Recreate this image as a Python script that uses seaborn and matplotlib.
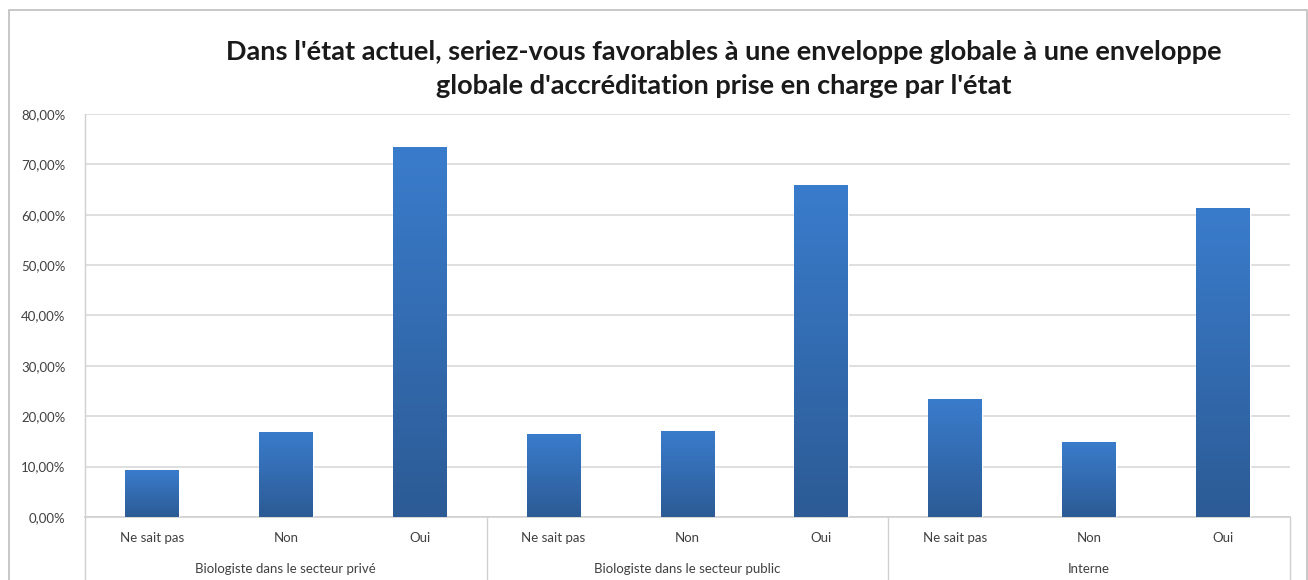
import numpy as np
import pandas as pd
import matplotlib
matplotlib.use("Agg")
import matplotlib.pyplot as plt
import seaborn as sns
from matplotlib.colors import LinearSegmentedColormap
from matplotlib.patches import Rectangle
from matplotlib.ticker import FuncFormatter

# Data
groups = ["Biologiste dans le secteur privé", "Biologiste dans le secteur public", "Interne"]
responses = ["Ne sait pas", "Non", "Oui"]
prive = [9.3, 16.9, 73.4]
public = [16.5, 17.1, 65.9]
interne = [23.4, 14.9, 61.3]

title = ("Dans l'état actuel, seriez-vous favorables à une enveloppe globale à une enveloppe\n"
         "globale d'accréditation prise en charge par l'état")

rows = []
for g, vals in zip(groups, [prive, public, interne]):
    for r, v in zip(responses, vals):
        rows.append({"key": g + "|" + r, "groupe": g, "reponse": r, "valeur": v})
df = pd.DataFrame(rows)

sns.set_theme(style="white")
plt.rcParams["font.family"] = ["Lato", "DejaVu Sans"]

fig = plt.figure(figsize=(13.08, 5.8), dpi=100)
ax = fig.add_axes([0.065, 0.1086, 0.921, 0.695])

sns.barplot(data=df, x="key", y="valeur", order=list(df["key"]), color="#3371bd",
            width=0.4, ax=ax, saturation=1, zorder=3)

# gradient fill on each bar (light on top, darker at the bottom)
cmap = LinearSegmentedColormap.from_list("bar", ["#2c5b95", "#3a7ccc"])
grad = np.linspace(0, 1, 256).reshape(-1, 1)
for p in ax.patches:
    x0, y0 = p.get_x(), p.get_y()
    w, h = p.get_width(), p.get_height()
    im = ax.imshow(grad, cmap=cmap, origin="lower", aspect="auto",
                   extent=[x0, x0 + w, y0, y0 + h], zorder=4)
    im.set_clip_path(p)

ax.set_xlim(-0.5, len(df) - 0.5)
ax.set_ylim(0, 80)
ax.set_yticks(np.arange(0, 81, 10))
ax.yaxis.set_major_formatter(FuncFormatter(lambda v, _: f"{v:.2f}".replace(".", ",") + "%"))
ax.grid(axis="y", color="#d9d9d9", linewidth=1.2, zorder=0)
ax.set_axisbelow(True)

ax.set_xticks(range(len(df)))
ax.set_xticklabels(df["reponse"], fontsize=9.5, color="#404040")
ax.tick_params(axis="x", length=0, pad=11)
ax.tick_params(axis="y", length=0, labelsize=9.5, labelcolor="#404040", pad=14)
ax.set_xlabel("")
ax.set_ylabel("")

for s in ["top", "right"]:
    ax.spines[s].set_visible(False)
ax.spines["left"].set_color("#d0d0d0")
ax.spines["bottom"].set_color("#d0d0d0")
ax.spines["left"].set_linewidth(1)
ax.spines["bottom"].set_linewidth(1.2)

# group separators and group labels below the axis
trans = ax.get_xaxis_transform()
for i in range(len(groups) + 1):
    xs = i * len(responses) - 0.5
    ax.plot([xs, xs], [0, -0.16], transform=trans, color="#d0d0d0", lw=1, clip_on=False)
for i, g in enumerate(groups):
    xc = i * len(responses) + (len(responses) - 1) / 2
    ax.text(xc, -0.128, g, transform=trans, ha="center", va="center",
            fontsize=9.5, color="#404040")

fig.text(0.553, 0.881, title, ha="center", va="center", fontsize=19.5,
         fontweight="bold", color="#1a1a1a", linespacing=1.5)

# outer chart frame
fig.patches.append(Rectangle((0.007, -0.01), 0.992, 0.993, transform=fig.transFigure,
                             fill=False, edgecolor="#bfbfbf", lw=1.2))

fig.savefig("out.png", dpi=100, facecolor="white")
